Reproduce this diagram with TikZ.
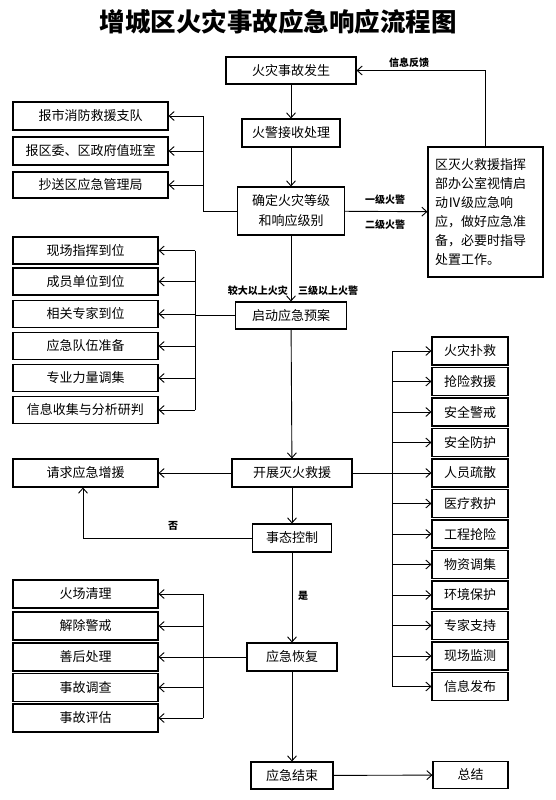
\documentclass[tikz,border=0pt]{standalone}
\usepackage{fontspec}
\newfontfamily\cjk{Noto Sans CJK SC}
\usetikzlibrary{arrows.meta}
\begin{document}
\begin{tikzpicture}[x=1pt,y=-1pt,
  bx/.style={draw, line width=1.1pt, inner sep=0pt, minimum height=28pt, font=\cjk\fontsize{13}{13}\selectfont},
  lbl/.style={inner sep=0pt, font=\cjk\bfseries\fontsize{10}{10}\selectfont},
  ln/.style={line width=0.9pt},
  arr/.style={line width=0.9pt, -{Straight Barb[length=5pt,width=9pt]}}]
\useasboundingbox (0,0) rectangle (555,800);
\fill[white] (0,0) rectangle (555,800);

\node[inner sep=0pt, font=\cjk\bfseries\fontsize{25.5}{26}\selectfont] (title) at (278,22) {增城区火灾事故应急响应流程图};

% central column
\node[bx, minimum width=130pt, minimum height=27pt] (n1) at (291,70.5) {火灾事故发生};
\node[bx, minimum width=98pt] (n2) at (291,133) {火警接收处理};
\node[bx, minimum width=107pt, minimum height=48pt, align=center, font=\cjk\fontsize{13}{20}\selectfont] (n3) at (291,211) {确定火灾等级\\和响应级别};
\node[bx, minimum width=111pt, minimum height=27pt] (n4) at (291,315.5) {启动应急预案};
\node[bx, minimum width=120pt] (n5) at (292,473) {开展灭火救援};
\node[bx, minimum width=79pt] (n6) at (292,538) {事态控制};
\node[bx, minimum width=90pt] (n7) at (292,657) {应急恢复};
\node[bx, minimum width=82pt, minimum height=27pt] (n8) at (292,775.5) {应急结束};
\node[bx, minimum width=75pt, minimum height=27pt] (sum) at (470.5,775) {总结};

% right info box
\node[bx, minimum width=115pt, minimum height=130pt, text width=101pt, align=left, font=\cjk\fontsize{13}{19}\selectfont] (r1) at (485.5,212) {区灭火救援指挥\\部办公室视情启\\动Ⅳ级应急响\\应，做好应急准\\备，必要时指导\\处置工作。};

% top-left group
\node[bx, minimum width=155pt] (a1) at (90.5,116) {报市消防救援支队};
\node[bx, minimum width=155pt] (a2) at (90.5,151) {报区委、区政府值班室};
\node[bx, minimum width=155pt, minimum height=26pt] (a3) at (90.5,185) {抄送区应急管理局};

% middle-left group
\node[bx, minimum width=145pt, minimum height=27pt] (b1) at (85.5,250.5) {现场指挥到位};
\node[bx, minimum width=145pt, minimum height=27pt] (b2) at (85.5,281.5) {成员单位到位};
\node[bx, minimum width=145pt, minimum height=27pt] (b3) at (85.5,314) {相关专家到位};
\node[bx, minimum width=145pt, minimum height=27pt] (b4) at (85.5,346) {应急队伍准备};
\node[bx, minimum width=145pt, minimum height=27pt] (b5) at (85.5,378) {专业力量调集};
\node[bx, minimum width=145pt, minimum height=27pt] (b6) at (85.5,410) {信息收集与分析研判};

\node[bx, minimum width=145pt] (q) at (85.5,473) {请求应急增援};

% bottom-left group
\node[bx, minimum width=145pt] (c1) at (85.5,594) {火场清理};
\node[bx, minimum width=145pt] (c2) at (85.5,626) {解除警戒};
\node[bx, minimum width=145pt] (c3) at (85.5,657) {善后处理};
\node[bx, minimum width=145pt] (c4) at (85.5,687.5) {事故调查};
\node[bx, minimum width=145pt] (c5) at (85.5,718) {事故评估};

% right group
\node[bx, minimum width=76pt] (d1) at (470,351) {火灾扑救};
\node[bx, minimum width=76pt] (d2) at (470,381.5) {抢险救援};
\node[bx, minimum width=76pt] (d3) at (470,412) {安全警戒};
\node[bx, minimum width=76pt] (d4) at (470,442.5) {安全防护};
\node[bx, minimum width=76pt] (d5) at (470,473) {人员疏散};
\node[bx, minimum width=76pt] (d6) at (470,503.5) {医疗救护};
\node[bx, minimum width=76pt] (d7) at (470,534) {工程抢险};
\node[bx, minimum width=76pt] (d8) at (470,564.5) {物资调集};
\node[bx, minimum width=76pt] (d9) at (470,595) {环境保护};
\node[bx, minimum width=76pt] (d10) at (470,625.5) {专家支持};
\node[bx, minimum width=76pt] (d11) at (470,656) {现场监测};
\node[bx, minimum width=76pt] (d12) at (470,686.5) {信息发布};

% labels
\node[lbl] (fb) at (409,63) {信息反馈};
\node[lbl] (g1) at (385,200) {一级火警};
\node[lbl] (g2) at (385,225) {二级火警};
\node[lbl, anchor=east] (g3) at (288,291) {较大以上火灾};
\node[lbl, anchor=west] (g4) at (298,291) {三级以上火警};
\node[lbl] (no) at (173,526) {否};
\node[lbl] (yes) at (303,596) {是};

% bus coordinates
\coordinate (ba) at (203,0);
\coordinate (bb) at (195,0);
\coordinate (bc) at (203,0);
\coordinate (bd) at (392,0);
\coordinate (nx) at (83,0);

% central arrows
\draw[arr] (n1) -- (n2);
\draw[arr] (n2) -- (n3);
\draw[arr] (n3) -- (n4);
\draw[arr] (n4) -- (n5);
\draw[arr] (n5) -- (n6);
\draw[arr] (n6) -- (n7);
\draw[arr] (n7) -- (n8);
\draw[arr] (n8) -- (sum);
\draw[arr] (n3) -- (r1);
\draw[arr] (r1.north) |- (n1.east);
\draw[arr] (n5) -- (q);
\draw[arr] (n6.west) -| (nx |- q.south);

% top-left
\draw[arr] (n3.west) -- (n3.west -| ba) |- (a1.east);
\draw[arr] (a2.east -| ba) -- (a2.east);
\draw[arr] (a3.east -| ba) -- (a3.east);

% middle-left
\draw[ln] (bb |- b1.east) -- (bb |- b6.east);
\draw[ln] (n4.west) -- (n4.west -| bb);
\foreach \n in {b1,b2,b3,b4,b5,b6} \draw[arr] (\n.east -| bb) -- (\n.east);

% bottom-left
\draw[ln] (bc |- c1.east) -- (bc |- c5.east);
\draw[ln] (n7.west) -- (n7.west -| bc);
\foreach \n in {c1,c2,c3,c4,c5} \draw[arr] (\n.east -| bc) -- (\n.east);

% right
\draw[ln] (bd |- d1.west) -- (bd |- d12.west);
\draw[arr] (n5.east) -- (d5.west);
\foreach \n in {d1,d2,d3,d4,d6,d7,d8,d9,d10,d11,d12} \draw[arr] (\n.west -| bd) -- (\n.west);
\end{tikzpicture}
\end{document}
